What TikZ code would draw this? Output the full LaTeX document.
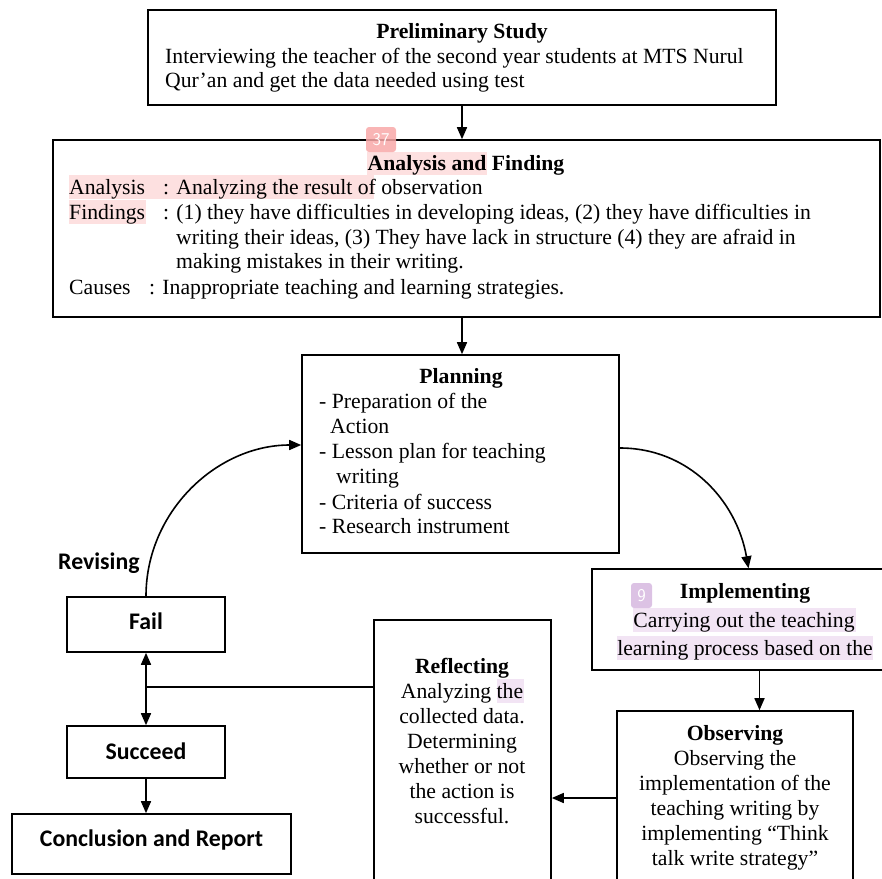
\documentclass[tikz,border=0pt]{standalone}
\usepackage{fontspec}
\setmainfont{Liberation Serif}
\newfontfamily\sanscal{Carlito}
\usetikzlibrary{arrows.meta}
\definecolor{hlpink}{HTML}{FDE0E0}
\definecolor{badgepink}{HTML}{F8A8A8}
\definecolor{hlpurple}{HTML}{F2E4F4}
\definecolor{badgepurple}{HTML}{DCC2E4}
\begin{document}
\begin{tikzpicture}[x=1pt,y=-1pt,
  box/.style={draw, line width=1.6pt, rectangle, inner sep=0pt},
  txt/.style={inner sep=0pt, anchor=base west, font=\fontsize{21.7}{25}\selectfont},
  ttl/.style={inner sep=0pt, anchor=base, font=\fontsize{21.7}{25}\selectfont\bfseries},
  ctr/.style={inner sep=0pt, anchor=base, font=\fontsize{21.7}{25}\selectfont},
  sans/.style={inner sep=0pt, anchor=base, font=\sanscal\fontsize{23.8}{25}\selectfont\bfseries},
  arr/.style={line width=1.6pt, -{Triangle[length=12pt,width=10pt]}},
  ln/.style={line width=1.6pt},
  badge/.style={rounded corners=3pt, inner sep=0pt, text=white, font=\sffamily\fontsize{18}{18}\selectfont}
]
\useasboundingbox (0,0) rectangle (882,878);
\clip (0,0) rectangle (882,878);
% highlights
\fill[hlpink] (367,152) rectangle (487,175);
\fill[hlpink] (69,175) rectangle (374,199);
\fill[hlpink] (69,200) rectangle (146,224);
\fill[hlpurple] (633,608) rectangle (856,632);
\fill[hlpurple] (617,636) rectangle (873,660);
\fill[hlpurple] (497,679) rectangle (524,703);

% boxes
\node[box, minimum width=628, minimum height=95] (prelim) at (462,57.5) {};
\node[box, minimum width=827, minimum height=177] (analysis) at (466.5,228.5) {};
\node[box, minimum width=317, minimum height=198] (plan) at (460.5,454) {};
\node[box, minimum width=303, minimum height=101] (impl) at (743.5,619.5) {};
\node[box, minimum width=236, minimum height=189] (obs) at (735,805.5) {};
\node[box, minimum width=177, minimum height=280] (refl) at (462.5,760) {};
\node[box, minimum width=158, minimum height=55] (fail) at (146,624.5) {};
\node[box, minimum width=158, minimum height=52] (succ) at (146,752) {};
\node[box, minimum width=279, minimum height=60] (concl) at (151.5,844) {};

% preliminary text
\node[ttl] (p0) at (462,38) {Preliminary Study};
\node[txt] (p1) at (165,63) {Interviewing the teacher of the second year students at MTS Nurul};
\node[txt] (p2) at (165,87) {Qur’an and get the data needed using test};

% analysis text
\node[ttl] (a0) at (466,170) {Analysis and Finding};
\node[txt] (a1) at (69,194) {Analysis};
\node[txt] (a1b) at (163,194) {: Analyzing the result of observation};
\node[txt] (a2) at (69,219) {Findings};
\node[txt] (a2b) at (163,219) {: (1) they have difficulties in developing ideas, (2) they have difficulties in};
\node[txt] (a3) at (176,244) {writing their ideas, (3) They have lack in structure (4) they are afraid in};
\node[txt] (a4) at (176,268) {making mistakes in their writing.};
\node[txt] (a5) at (69,294) {Causes};
\node[txt] (a5b) at (149,294) {: Inappropriate teaching and learning strategies.};

% planning text
\node[ttl] (pl0) at (461,383) {Planning};
\node[txt] (pl1) at (319,408) {- Preparation of the};
\node[txt] (pl2) at (330,433) {Action};
\node[txt] (pl3) at (319,458) {- Lesson plan for teaching};
\node[txt] (pl4) at (336,483) {writing};
\node[txt] (pl5) at (319,509) {- Criteria of success};
\node[txt] (pl6) at (319,533) {- Research instrument};

% implementing text
\node[ttl] (i0) at (745,598) {Implementing};
\node[ctr] (i1) at (744,627) {Carrying out the teaching};
\node[ctr] (i2) at (745,655) {learning process based on the};

% observing text
\node[ttl] (o0) at (735,740) {Observing};
\node[ctr] (o1) at (735,765) {Observing the};
\node[ctr] (o2) at (735,790) {implementation of the};
\node[ctr] (o3) at (735,815) {teaching writing by};
\node[ctr] (o4) at (735,840) {implementing “Think};
\node[ctr] (o5) at (735,865) {talk write strategy”};

% reflecting text
\node[ttl] (r0) at (462,673) {Reflecting};
\node[ctr] (r1) at (462,698) {Analyzing the};
\node[ctr] (r2) at (462,723) {collected data.};
\node[ctr] (r3) at (462,748) {Determining};
\node[ctr] (r4) at (462,773) {whether or not};
\node[ctr] (r5) at (462,798) {the action is};
\node[ctr] (r6) at (462,823) {successful.};

% left column
\node[sans] (f0) at (146,629) {Fail};
\node[sans] (s0) at (146,759) {Succeed};
\node[sans] (c0) at (151.5,846) {Conclusion and Report};
\node[sans, anchor=base west] (rev) at (58,569) {Revising};

% badges
\node[badge, fill=badgepink, fill opacity=0.85, text opacity=1, minimum width=30, minimum height=25] (b37) at (381,139.5) {37};
\node[badge, fill=badgepurple, minimum width=21, minimum height=25] (b9) at (641.5,595.5) {9};

% connectors
\coordinate (join) at (146,687);
\coordinate (c798) at (0,798);
\draw[arr] (prelim.south) -- (prelim.south |- analysis.north);
\draw[arr] (prelim.south |- analysis.south) -- (prelim.south |- plan.north);
\draw[arr] ([yshift=6pt]plan.east) to[out=0, in=100] ([xshift=5pt]impl.north);
\draw[arr] (fail.north) to[out=90, in=180] ([yshift=9pt]plan.west);
\draw[arr] ([xshift=16pt]impl.south) -- ([xshift=16pt]impl.south |- obs.north);
\draw[arr] (obs.west |- c798) -- (refl.east |- c798);
\draw[ln] (refl.west |- join) -- (join);
\draw[arr] (join) -- (fail.south);
\draw[arr] (join) -- (succ.north);
\draw[arr] (succ.south) -- (succ.south |- concl.north);
\end{tikzpicture}
\end{document}
